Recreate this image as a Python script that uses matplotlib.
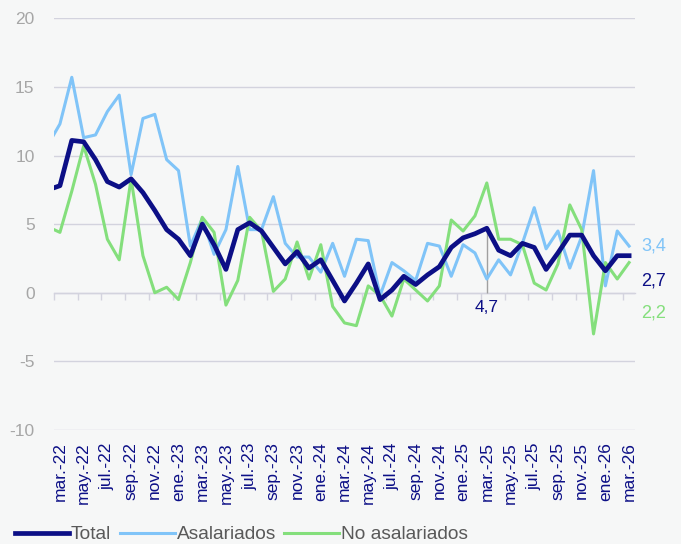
import matplotlib
matplotlib.use("Agg")
import matplotlib.pyplot as plt
import numpy as np

plt.rcParams["font.family"] = ["Liberation Sans", "DejaVu Sans"]
plt.rcParams["axes.unicode_minus"] = False

# feb-22 .. mar-26 (feb-22 only partly visible at the left edge)
months = [
    "feb.-22", "mar.-22", "abr.-22", "may.-22", "jun.-22", "jul.-22", "ago.-22", "sep.-22", "oct.-22",
    "nov.-22", "dic.-22", "ene.-23", "feb.-23", "mar.-23", "abr.-23", "may.-23", "jun.-23", "jul.-23",
    "ago.-23", "sep.-23", "oct.-23", "nov.-23", "dic.-23", "ene.-24", "feb.-24", "mar.-24", "abr.-24",
    "may.-24", "jun.-24", "jul.-24", "ago.-24", "sep.-24", "oct.-24", "nov.-24", "dic.-24", "ene.-25",
    "feb.-25", "mar.-25", "abr.-25", "may.-25", "jun.-25", "jul.-25", "ago.-25", "sep.-25", "oct.-25",
    "nov.-25", "dic.-25", "ene.-26", "feb.-26", "mar.-26",
]

total = [
    7.5, 7.8, 11.1, 11.0, 9.7, 8.1, 7.7, 8.3, 7.3, 6.0, 4.6, 3.9, 2.7, 5.0, 3.5, 1.7, 4.6, 5.1, 4.5,
    3.3, 2.1, 3.0, 1.8, 2.4, 0.9, -0.6, 0.7, 2.1, -0.5, 0.2, 1.2, 0.6, 1.3, 1.9, 3.3, 4.0, 4.3, 4.7,
    3.1, 2.7, 3.6, 3.3, 1.7, 2.9, 4.2, 4.2, 2.7, 1.6, 2.7, 2.7,
]
asalariados = [
    10.8, 12.3, 15.7, 11.3, 11.5, 13.2, 14.4, 8.6, 12.7, 13.0, 9.7, 8.9, 3.4, 5.4, 2.8, 4.6, 9.2, 4.6,
    4.6, 7.0, 3.6, 2.6, 2.6, 1.5, 3.6, 1.2, 3.9, 3.8, -0.2, 2.2, 1.6, 0.9, 3.6, 3.4, 1.2, 3.5, 2.9,
    1.0, 2.4, 1.3, 3.6, 6.2, 3.2, 4.5, 1.8, 4.1, 8.9, 0.5, 4.5, 3.4,
]
no_asalariados = [
    4.8, 4.4, 7.4, 10.7, 7.9, 3.9, 2.4, 8.3, 2.7, 0.0, 0.4, -0.5, 2.2, 5.5, 4.4, -0.9, 0.9, 5.5, 4.5,
    0.1, 1.0, 3.7, 1.0, 3.5, -1.0, -2.2, -2.4, 0.5, -0.2, -1.7, 1.0, 0.2, -0.6, 0.5, 5.3, 4.5, 5.6,
    8.0, 3.9, 3.9, 3.5, 0.7, 0.2, 2.1, 6.4, 4.6, -3.0, 2.2, 1.0, 2.2,
]

NAVY = "#0c0f86"
BLUE = "#80c4f8"
GREEN = "#84df7c"
BG = "#f6f7f7"
GRID = "#d3d3de"

x = np.arange(len(months))

fig = plt.figure(figsize=(6.81, 5.44), dpi=100, facecolor=BG)
ax = fig.add_axes([0.0793, 0.2096, 0.8532, 0.7568])
ax.set_facecolor(BG)

ax.plot(x, asalariados, color=BLUE, lw=2.2, label="Asalariados", zorder=3)
ax.plot(x, no_asalariados, color=GREEN, lw=2.2, label="No asalariados", zorder=3)
ax.plot(x, total, color=NAVY, lw=3.4, label="Total", zorder=4)

ax.set_xlim(0.5, len(months) - 0.5)
ax.set_ylim(-10, 20)
ax.set_yticks(range(-10, 21, 5))
ax.grid(axis="y", color=GRID, lw=1)
ax.set_axisbelow(True)
for s in ax.spines.values():
    s.set_visible(False)
ax.tick_params(axis="y", length=0, pad=14, labelsize=12.5, labelcolor="#a6a6a6")

# labels every two months starting at mar-22
lab_idx = x[1::2]
ax.set_xticks(lab_idx)
ax.set_xticklabels([months[i] for i in lab_idx], rotation=90, fontsize=12.5, color=NAVY)
ax.tick_params(axis="x", length=0, pad=9)

# tick marks on the zero line
sec = ax.secondary_xaxis(1 / 3)
sec.set_xticks(np.arange(0.5, len(months), 2))
sec.set_xticklabels([])
sec.tick_params(length=5, color=GRID, width=1)
sec.spines["bottom"].set_color(GRID)
sec.spines["bottom"].set_linewidth(1)

# end labels
last = len(months) - 1
ax.annotate(f"{asalariados[-1]:.1f}".replace(".", ","), (last, asalariados[-1]),
            xytext=(8.5, 0), textcoords="offset points", va="center", color=BLUE, fontsize=13)
ax.annotate(f"{total[-1]:.1f}".replace(".", ","), (last, asalariados[-1]),
            xytext=(8.5, -25), textcoords="offset points", va="center", color=NAVY, fontsize=13)
ax.annotate(f"{no_asalariados[-1]:.1f}".replace(".", ","), (last, asalariados[-1]),
            xytext=(8.5, -48), textcoords="offset points", va="center", color=GREEN, fontsize=13)

# mar-25 marker
i25 = months.index("mar.-25")
ax.vlines(i25, 0, total[i25], color="#a0a0a0", lw=1, zorder=2)
ax.annotate(f"{total[i25]:.1f}".replace(".", ","), (i25, 0), xytext=(0, -10.5),
            textcoords="offset points", ha="center", va="center", color=NAVY, fontsize=12.5)

h, l = ax.get_legend_handles_labels()
order = [2, 0, 1]
fig.legend([h[i] for i in order], [l[i] for i in order], loc="center left",
           bbox_to_anchor=(-0.004, 0.017), ncol=3, frameon=False, fontsize=13.8,
           handlelength=2.85, handletextpad=0.1, columnspacing=0.45, labelcolor="#595959")

fig.savefig("out.png", dpi=100, facecolor=BG)
